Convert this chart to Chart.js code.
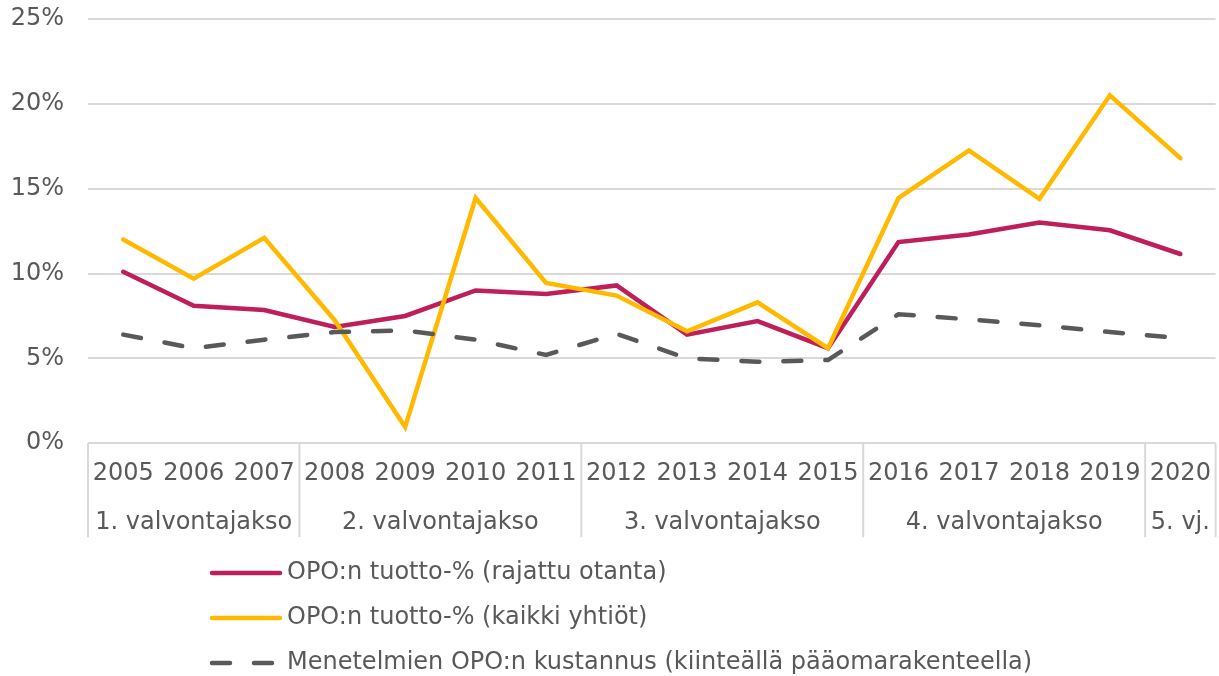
<!DOCTYPE html>
<html>
<head>
<meta charset="utf-8">
<script src="https://cdn.jsdelivr.net/npm/chart.js@4"></script>
<style>
  html, body { margin: 0; padding: 0; background: #fff; }
  #wrap { width: 1219px; height: 676px; }
</style>
</head>
<body>
<div id="wrap"><canvas id="myChart"></canvas></div>
<script>
const years = ['2005', '2006', '2007', '2008', '2009', '2010', '2011', '2012', '2013', '2014', '2015', '2016', '2017', '2018', '2019', '2020'];
const groupLabels = ['1. valvontajakso', '2. valvontajakso', '3. valvontajakso', '4. valvontajakso', '5. vj.'];
const groupSizes = [3, 4, 4, 4, 1];
const seriesNames = [
    'OPO:n tuotto-% (rajattu otanta)',
    'OPO:n tuotto-% (kaikki yhtiöt)',
    'Menetelmien OPO:n kustannus (kiinteällä pääomarakenteella)'
];
const rajattu = [10.1, 8.1, 7.85, 6.85, 7.5, 9.0, 8.8, 9.3, 6.4, 7.2, 5.6, 11.85, 12.3, 13.0, 12.55, 11.15];
const kaikki = [12.0, 9.7, 12.1, 7.25, 0.95, 14.45, 9.45, 8.7, 6.6, 8.3, 5.6, 14.45, 17.25, 14.4, 20.5, 16.8];
const kustannus = [6.4, 5.6, 6.1, 6.55, 6.65, 6.1, 5.2, 6.45, 5.0, 4.8, 4.9, 7.6, 7.3, 6.95, 6.55, 6.2];
const yTicks = [0, 5, 10, 15, 20, 25];

const textColor = '#595959';
const gridColor = '#D9D9D9';
const fontFamily = '"DejaVu Sans", Verdana, sans-serif';
const fontSize = 24;

// group labels + separators under the year labels, and a stacked legend
const groupAxis = {
    id: 'groupAxis',
    afterDraw(chart) {
        const ctx = chart.ctx;
        const x = chart.scales.x;
        const area = chart.chartArea;
        const bounds = [area.left];
        let idx = 0;
        groupSizes.forEach(n => {
            idx += n;
            if (idx >= years.length) {
                bounds.push(area.right);
            } else {
                bounds.push((x.getPixelForValue(idx - 1) + x.getPixelForValue(idx)) / 2);
            }
        });
        ctx.save();
        ctx.strokeStyle = gridColor;
        ctx.lineWidth = 2;
        bounds.forEach(b => {
            ctx.beginPath();
            ctx.moveTo(b, area.bottom);
            ctx.lineTo(b, area.bottom + 94);
            ctx.stroke();
        });
        ctx.fillStyle = textColor;
        ctx.font = fontSize + 'px ' + fontFamily;
        ctx.textAlign = 'center';
        ctx.textBaseline = 'middle';
        groupLabels.forEach((lab, i) => {
            ctx.fillText(lab, (bounds[i] + bounds[i + 1]) / 2, area.bottom + 80);
        });

        // legend
        ctx.textAlign = 'left';
        const legendX = 210;
        const rowY = [573, 618, 663];
        seriesNames.forEach((name, i) => {
            const ds = chart.data.datasets.find(d => d.label === name);
            ctx.beginPath();
            ctx.strokeStyle = ds.borderColor;
            ctx.lineWidth = ds.borderWidth;
            ctx.lineCap = 'round';
            ctx.setLineDash(ds.borderDash || []);
            ctx.moveTo(legendX + 2, rowY[i]);
            ctx.lineTo(legendX + 70, rowY[i]);
            ctx.stroke();
            ctx.setLineDash([]);
            ctx.fillStyle = textColor;
            ctx.fillText(name, legendX + 77, rowY[i]);
        });
        ctx.restore();
    }
};

new Chart(document.getElementById('myChart'), {
    type: 'line',
    data: {
        labels: years,
        datasets: [{
            label: seriesNames[0],
            data: rajattu,
            borderColor: '#BE1E5A',
            borderWidth: 4.5,
            order: 2
        }, {
            label: seriesNames[1],
            data: kaikki,
            borderColor: '#FFB900',
            borderWidth: 4.5,
            order: 1
        }, {
            label: seriesNames[2],
            data: kustannus,
            borderColor: '#595959',
            borderWidth: 4.5,
            borderDash: [18, 24],
            order: 0
        }]
    },
    options: {
        responsive: true,
        maintainAspectRatio: false,
        animation: false,
        elements: {
            point: { radius: 0 },
            line: { tension: 0, borderCapStyle: 'round', fill: false }
        },
        layout: { padding: { left: 0, right: 3, top: 19, bottom: 180 } },
        plugins: {
            legend: { display: false },
            tooltip: { enabled: false }
        },
        scales: {
            x: {
                offset: true,
                grid: { display: false },
                border: { display: false },
                ticks: {
                    color: textColor,
                    font: { family: fontFamily, size: fontSize },
                    padding: 8,
                    maxRotation: 0,
                    autoSkip: false
                }
            },
            y: {
                min: 0,
                max: 25,
                afterBuildTicks(scale) {
                    scale.ticks = yTicks.map(v => ({ value: v }));
                },
                afterFit(scale) {
                    scale.width = 88;
                    scale.paddingTop = 0;
                    scale.paddingBottom = 0;
                },
                grid: { color: gridColor, lineWidth: 2, drawTicks: false },
                border: { display: false },
                ticks: {
                    color: textColor,
                    font: { family: fontFamily, size: fontSize },
                    padding: 24,
                    callback: v => v + '%'
                }
            }
        }
    },
    plugins: [groupAxis]
});
</script>
</body>
</html>
